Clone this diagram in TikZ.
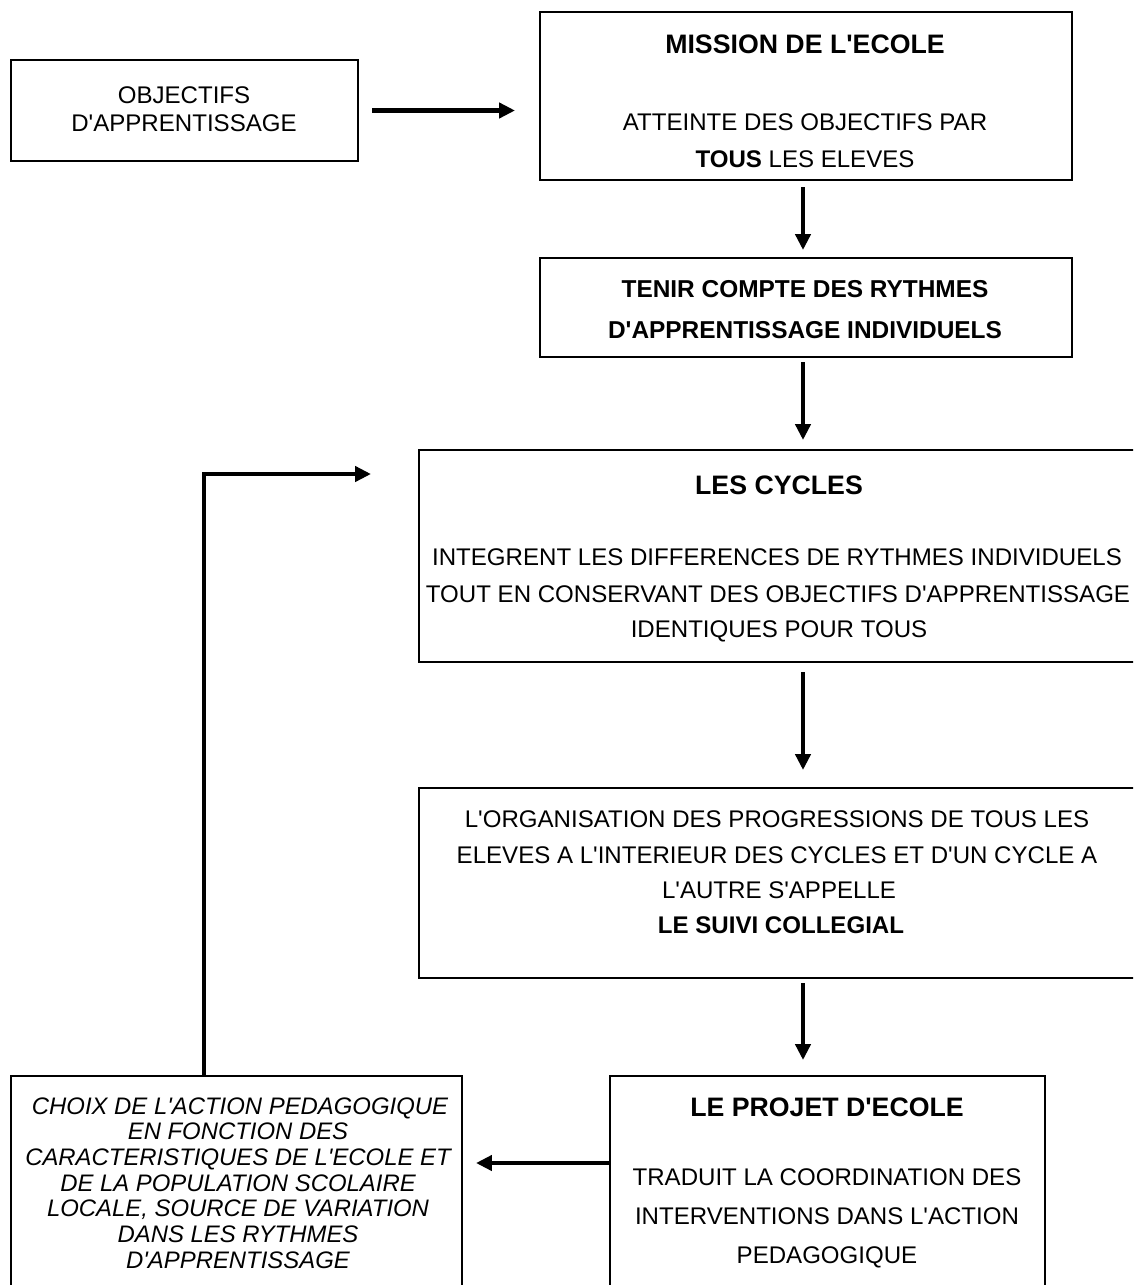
\documentclass[tikz,border=0pt]{standalone}
\usepackage{fontspec}
\setmainfont{Liberation Sans}
\usetikzlibrary{arrows.meta,calc}
\newcommand{\qq}{\textquotesingle}
\begin{document}
\begin{tikzpicture}[x=0.02cm,y=-0.02cm,
  box/.style={draw, line width=0.85pt, inner sep=0pt, outer sep=0pt, anchor=north west},
  arr/.style={line width=2.3pt, -{Triangle[length=9pt,width=8.5pt]}},
  body/.style={inner sep=0pt, anchor=base, font=\fontsize{13.7}{16}\selectfont},
  ttl/.style={inner sep=0pt, anchor=base, font=\fontsize{15.2}{18}\selectfont\bfseries},
  ttlsm/.style={inner sep=0pt, anchor=base, font=\fontsize{13.9}{16}\selectfont\bfseries},
  itl/.style={inner sep=0pt, anchor=base, font=\fontsize{13.6}{16}\selectfont\itshape}]
\useasboundingbox (0,0) rectangle (1133,1285);
\clip (0,0) rectangle (1133,1285);
\fill[white] (0,0) rectangle (1133,1285);
\def\p{0.02cm}
% boxes
\node[box, minimum width=347*\p, minimum height=101*\p] (obj) at (11,60) {};
\node[box, minimum width=532*\p, minimum height=168*\p] (mission) at (540,12) {};
\node[box, minimum width=532*\p, minimum height=99*\p] (tenir) at (540,258) {};
\node[box, minimum width=716*\p, minimum height=212*\p] (cycles) at (419,450) {};
\node[box, minimum width=716*\p, minimum height=190*\p] (org) at (419,788) {};
\node[box, minimum width=435*\p, minimum height=300*\p] (projet) at (610,1076) {};
\node[box, minimum width=451*\p, minimum height=300*\p] (choix) at (11,1076) {};
% texts
\node[body] (o1) at (184,103) {OBJECTIFS};
\node[body] (o2) at (184,131) {D\qq APPRENTISSAGE};
\node[ttl] (m1) at (805,53) {MISSION DE L\qq ECOLE};
\node[body] (m2) at (805,130) {ATTEINTE DES OBJECTIFS PAR};
\node[body] (m3) at (805,167) {\textbf{TOUS} LES ELEVES};
\node[ttlsm] (t1) at (805,297) {TENIR COMPTE DES RYTHMES};
\node[ttlsm] (t2) at (805,338) {D\qq APPRENTISSAGE INDIVIDUELS};
\node[ttl] (c1) at (779,494) {LES CYCLES};
\node[body] (c2) at (777,565) {INTEGRENT LES DIFFERENCES DE RYTHMES INDIVIDUELS};
\node[body] (c3) at (778,602) {TOUT EN CONSERVANT DES OBJECTIFS D\qq APPRENTISSAGE};
\node[body] (c4) at (779,637) {IDENTIQUES POUR TOUS};
\node[body] (g1) at (777,827) {L\qq ORGANISATION DES PROGRESSIONS DE TOUS LES};
\node[body] (g2) at (777,863) {ELEVES A L\qq INTERIEUR DES CYCLES ET D\qq UN CYCLE A};
\node[body] (g3) at (779,898) {L\qq AUTRE S\qq APPELLE};
\node[body] (g4) at (781,933) {\textbf{LE SUIVI COLLEGIAL}};
\node[ttl] (p1) at (827,1116) {LE PROJET D\qq ECOLE};
\node[body] (p2) at (827,1185) {TRADUIT LA COORDINATION DES};
\node[body] (p3) at (827,1224) {INTERVENTIONS DANS L\qq ACTION};
\node[body] (p4) at (827,1263) {PEDAGOGIQUE};
\node[itl] (h1) at (240,1114) {CHOIX DE L\qq ACTION PEDAGOGIQUE};
\node[itl] (h2) at (238,1139.7) {EN FONCTION DES};
\node[itl] (h3) at (238,1165.4) {CARACTERISTIQUES DE L\qq ECOLE ET};
\node[itl] (h4) at (238,1191.1) {DE LA POPULATION SCOLAIRE};
\node[itl] (h5) at (238,1216.8) {LOCALE, SOURCE DE VARIATION};
\node[itl] (h6) at (238,1242.5) {DANS LES RYTHMES};
\node[itl] (h7) at (238,1268.2) {D\qq APPRENTISSAGE};
% helper coordinates
\coordinate (col) at (803,0);
\coordinate (pjy) at (0,1163);
\coordinate (fb) at (204,474);
% connectors
\draw[arr, shorten <=0.28cm, shorten >=0.5cm] (obj.east) -- (obj.east -| mission.west);
\draw[arr, shorten <=0.14cm, shorten >=0.16cm] (mission.south -| col) -- (tenir.north -| col);
\draw[arr, shorten <=0.1cm, shorten >=0.2cm] (tenir.south -| col) -- (cycles.north -| col);
\draw[arr, shorten <=0.2cm, shorten >=0.36cm] (cycles.south -| col) -- (org.north -| col);
\draw[arr, shorten <=0.1cm, shorten >=0.32cm] (org.south -| col) -- (projet.north -| col);
\draw[arr, shorten >=0.28cm] (projet.west |- pjy) -- (choix.east |- pjy);
\draw[arr, shorten >=0.96cm] (choix.north -| fb) |- (cycles.west |- fb);
\end{tikzpicture}
\end{document}
